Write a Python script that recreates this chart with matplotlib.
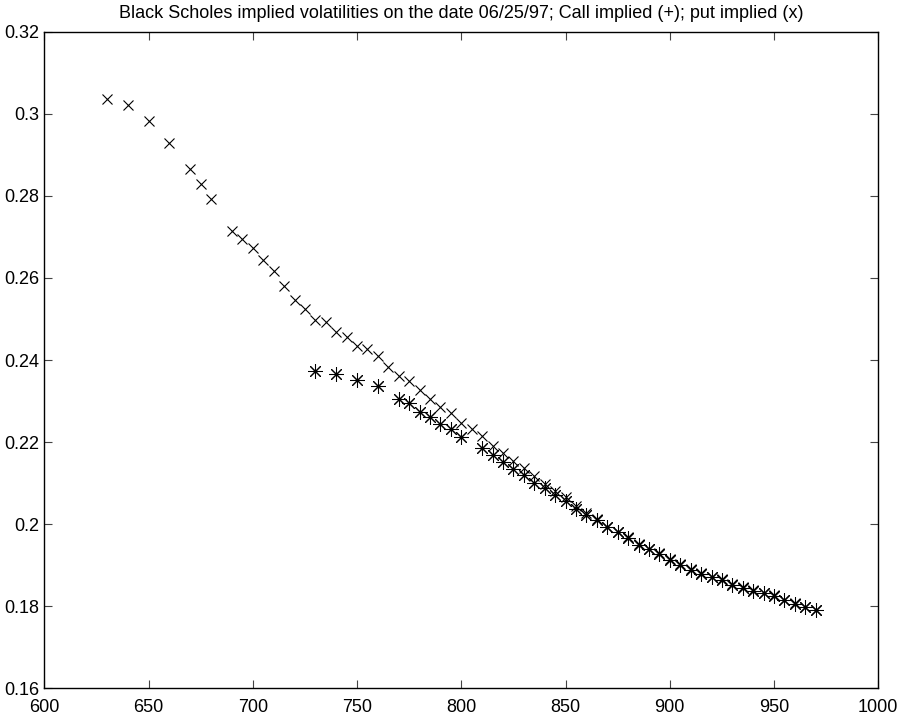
import matplotlib
matplotlib.use("Agg")
import matplotlib.pyplot as plt

plt.rcParams['font.family'] = ['Liberation Sans', 'DejaVu Sans']

# put implied vols (x)
put_strikes = [630, 640, 650, 660, 670, 675, 680, 690, 695, 700, 705, 710, 715,
               720, 725, 730, 735, 740, 745, 750, 755, 760, 765, 770, 775, 780,
               785, 790, 795, 800, 805, 810, 815, 820, 825, 830, 835, 840, 845,
               850, 855, 860, 865, 870, 875, 880, 885, 890, 895, 900, 905, 910,
               915, 920, 925, 930, 935, 940, 945, 950, 955, 960, 965, 970]
put_vols = [0.3036, 0.3021, 0.2982, 0.2928, 0.2866, 0.2829, 0.2793, 0.2714,
            0.2695, 0.2672, 0.2644, 0.2616, 0.2581, 0.2546, 0.2524, 0.2498,
            0.2493, 0.2469, 0.2456, 0.2433, 0.2428, 0.2409, 0.2383, 0.2360,
            0.2350, 0.2326, 0.2305, 0.2285, 0.2270, 0.2247, 0.2232, 0.2214,
            0.2190, 0.2174, 0.2154, 0.2138, 0.2117, 0.2097, 0.2081, 0.2065,
            0.2044, 0.2026, 0.2012, 0.1993, 0.1981, 0.1968, 0.1951, 0.1940,
            0.1929, 0.1914, 0.1902, 0.1890, 0.1880, 0.1872, 0.1866, 0.1853,
            0.1846, 0.1839, 0.1833, 0.1827, 0.1815, 0.1807, 0.1798, 0.1791]

# call implied vols (drawn as star in the original)
call_strikes = [730, 740, 750, 760, 770, 775, 780, 785, 790, 795, 800, 810, 815,
                820, 825, 830, 835, 840, 845, 850, 855, 860, 865, 870, 875, 880,
                885, 890, 895, 900, 905, 910, 915, 920, 925, 930, 935, 940, 945,
                950, 955, 960, 965, 970]
call_vols = [0.2372, 0.2367, 0.2352, 0.2337, 0.2306, 0.2295, 0.2273, 0.2260,
             0.2245, 0.2233, 0.2213, 0.2186, 0.2168, 0.2152, 0.2134, 0.2119,
             0.2101, 0.2087, 0.2070, 0.2056, 0.2036, 0.2023, 0.2010, 0.1992,
             0.1980, 0.1967, 0.1950, 0.1939, 0.1928, 0.1913, 0.1901, 0.1889,
             0.1879, 0.1871, 0.1865, 0.1852, 0.1845, 0.1838, 0.1832, 0.1826,
             0.1814, 0.1806, 0.1797, 0.1790]

x_ticks = [600, 650, 700, 750, 800, 850, 900, 950, 1000]
y_ticks = [0.16, 0.18, 0.2, 0.22, 0.24, 0.26, 0.28, 0.3, 0.32]
y_labels = ['0.16', '0.18', '0.2', '0.22', '0.24', '0.26', '0.28', '0.3', '0.32']

fig = plt.figure(figsize=(8.99, 7.15), dpi=100)
ax = fig.add_axes([44.3 / 899, 26.7 / 715, 834 / 899, 656.6 / 715])

# matlab style '*' = plus and cross on top of each other
ax.plot(call_strikes, call_vols, ls='none', marker=(8, 2, 0), color='black',
        ms=10.5, mew=0.75)
ax.plot(put_strikes, put_vols, 'x', color='black', ms=6.5, mew=0.8)

ax.set_xlim(600, 1000)
ax.set_ylim(0.16, 0.32)
ax.set_xticks(x_ticks)
ax.set_yticks(y_ticks)
ax.set_yticklabels(y_labels)
ax.tick_params(direction='in', length=6, width=0.8, top=True, right=True,
               labelsize=13, color='#444444')
ax.tick_params(axis='x', pad=8)
ax.tick_params(axis='y', pad=3.5)
for s in ax.spines.values():
    s.set_linewidth(1.0)

ax.set_title('Black Scholes implied volatilities on the date 06/25/97; '
             'Call implied (+); put implied (x)', fontsize=13, pad=10)

fig.savefig('out.png', dpi=100)
